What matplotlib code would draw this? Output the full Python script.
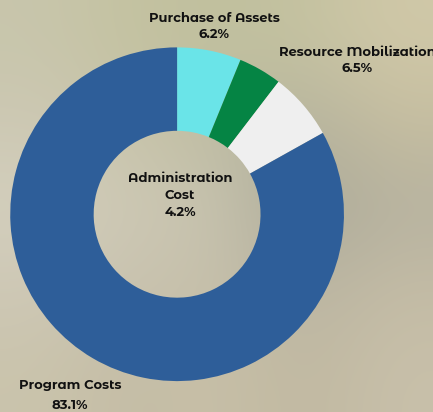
import numpy as np
import matplotlib.pyplot as plt

# data
labels = ['Purchase of Assets', 'Administration\nCost', 'Resource Mobilization', 'Program Costs']
values = [6.2, 4.2, 6.5, 83.1]
colors = ['#6AE4E8', '#058444', '#EFEFEF', '#2E5E99']

plt.rcParams['font.family'] = ['Montserrat Alternates', 'DejaVu Sans']

fig = plt.figure(figsize=(4.33, 4.12), dpi=100)

# blurry photo-like backdrop
bg = fig.add_axes([0, 0, 1, 1])
grid = np.array([
    [[200, 198, 172], [196, 194, 160], [192, 192, 158], [196, 194, 160], [208, 200, 168]],
    [[205, 200, 180], [200, 196, 170], [190, 188, 162], [180, 178, 158], [198, 190, 160]],
    [[212, 208, 190], [205, 200, 180], [200, 196, 176], [170, 168, 150], [182, 178, 160]],
    [[206, 200, 182], [200, 194, 175], [198, 192, 170], [185, 180, 162], [196, 188, 165]],
    [[202, 196, 172], [196, 188, 165], [200, 192, 168], [192, 184, 160], [200, 192, 170]],
]) / 255.0
bg.imshow(grid, aspect='auto', interpolation='bicubic', extent=[0, 1, 0, 1])
bg.set_axis_off()

ax = fig.add_axes([0.023, 0.075, 0.772, 0.81])
ax.pie(values, colors=colors, startangle=90, counterclock=False,
       wedgeprops=dict(width=0.5, linewidth=0))
ax.set_xlim(-1, 1)
ax.set_ylim(-1, 1)
ax.set_aspect('equal')
ax.patch.set_alpha(0)

tk = dict(ha='center', va='center', fontsize=9.4, fontweight='bold', color='#111111')
fig.text(214 / 433, 1 - 26 / 412, f'{labels[0]}\n{values[0]}%', linespacing=1.45, **tk)
fig.text(357 / 433, 1 - 60 / 412, f'{labels[2]}\n{values[2]}%', linespacing=1.45, **tk)
fig.text(180 / 433, 1 - 195 / 412, f'{labels[1]}\n{values[1]}%', linespacing=1.45, **tk)
fig.text(70 / 433, 1 - 395 / 412, f'{labels[3]}\n{values[3]}%', linespacing=1.75, **tk)

fig.savefig('out.png', dpi=100)
